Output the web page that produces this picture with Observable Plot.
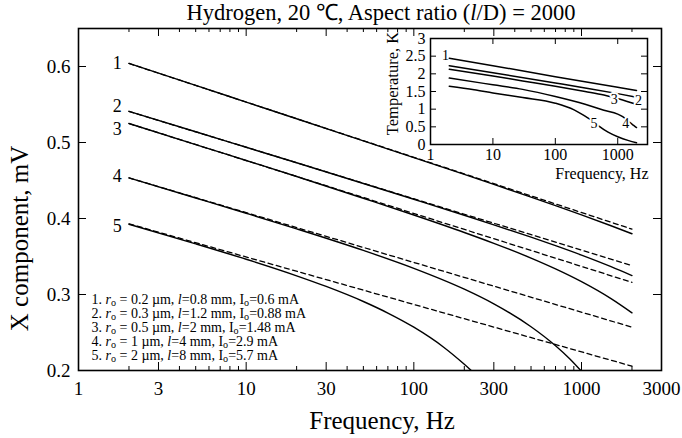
<!DOCTYPE html>
<html>
<head>
<meta charset="utf-8">
<script src="https://cdn.jsdelivr.net/npm/d3@7"></script>
<script src="https://cdn.jsdelivr.net/npm/@observablehq/plot@0.6"></script>
<style>
  body { margin: 0; background: white; }
</style>
</head>
<body>
<div id="wrap"></div>
<script>
// ---------- main chart data (X component, mV vs frequency, Hz) ----------
const freqA = [2, 5, 10, 20, 50, 100, 200, 300, 500, 700, 1000, 1500, 2000];
const solid1 = [0.604, 0.5751, 0.5532, 0.5313, 0.5022, 0.4802, 0.4580, 0.4449, 0.4282, 0.4170, 0.4048, 0.3905, 0.3799];
const solid2 = [0.541, 0.5141, 0.4937, 0.4733, 0.4461, 0.4253, 0.4043, 0.3917, 0.3754, 0.3642, 0.3518, 0.3366, 0.3249];
const solid3 = [0.525, 0.4973, 0.4763, 0.4553, 0.4266, 0.4046, 0.3816, 0.3673, 0.3479, 0.3337, 0.3169, 0.2946, 0.2759];
const freq4 = [2, 5, 10, 20, 50, 100, 200, 300, 500, 700, 850, 990];
const solid4 = [0.4534, 0.4270, 0.4069, 0.3864, 0.3580, 0.3344, 0.3070, 0.2877, 0.2576, 0.2326, 0.2155, 0.2000];
const freq5 = [2, 5, 10, 20, 30, 50, 70, 100, 150, 200, 220];
const solid5 = [0.3924, 0.3667, 0.3464, 0.3246, 0.3106, 0.2908, 0.2756, 0.2570, 0.2310, 0.2082, 0.2000];

const dashFreq = [2, 2000];
const dash1 = [0.604, 0.386];
const dash2 = [0.541, 0.338];
const dash3 = [0.525, 0.316];
const dash4 = [0.4535, 0.257];
const dash5 = [0.393, 0.2057];

const curveNames = ["1", "2", "3", "4", "5"];
const mainLabelFreq = [1.70, 1.70, 1.70, 1.70, 1.70];
const mainLabelVal = [0.604, 0.5476, 0.5173, 0.455, 0.3897];

const xTickLabels = [1, 3, 10, 30, 100, 300, 1000, 3000];
const xMajorTicks = [3, 10, 30, 100, 300, 1000];
const xMinorTicks = [2, 4, 5, 6, 7, 8, 9, 20, 40, 50, 60, 70, 80, 90, 200, 400, 500, 600, 700, 800, 900, 2000];
const yTickLabels = [0.2, 0.3, 0.4, 0.5, 0.6];
const yMajorTicks = [0.3, 0.4, 0.5, 0.6];

const titleText = "Hydrogen, 20 \u2103, Aspect ratio ({l}/D) = 2000";
const xLabel = "Frequency, Hz";
const yLabel = "X component, mV";
const legendLines = [
  "1. {r}_o = 0.2 \u00b5m, {l}=0.8 mm, I_o=0.6 mA",
  "2. {r}_o = 0.3 \u00b5m, {l}=1.2 mm, I_o=0.88 mA",
  "3. {r}_o = 0.5 \u00b5m, {l}=2 mm, I_o=1.48 mA",
  "4. {r}_o = 1 \u00b5m, {l}=4 mm, I_o=2.9 mA",
  "5. {r}_o = 2 \u00b5m, {l}=8 mm, I_o=5.7 mA"
];

// ---------- inset data (Temperature, K vs frequency, Hz) ----------
const tFreq1 = [2, 10, 100, 1000, 2000];
const temp1 = [2.44, 2.23, 1.92, 1.62, 1.53];
const tFreq2 = [2, 10, 100, 300, 1000, 2000];
const temp2 = [2.23, 2.03, 1.74, 1.60, 1.44, 1.34];
const tFreq3 = [2, 10, 30, 100, 300, 600, 900, 1200, 1600, 2000];
const temp3 = [2.13, 1.94, 1.80, 1.65, 1.50, 1.40, 1.32, 1.26, 1.19, 1.13];
const tFreq4 = [2, 10, 30, 100, 300, 600, 1000, 1200, 1400, 1600, 1800, 2000];
const temp4 = [1.88, 1.69, 1.56, 1.36, 1.14, 0.97, 0.86, 0.79, 0.70, 0.61, 0.54, 0.48];
const tFreq5 = [2, 5, 10, 30, 100, 200, 300, 400, 500, 700, 1000, 1500, 2000];
const temp5 = [1.65, 1.55, 1.46, 1.33, 1.17, 0.98, 0.80, 0.66, 0.52, 0.35, 0.22, 0.11, 0.05];
const insetLabelFreq = [1.74, 2150, 877, 1350, 417];
const insetLabelTemp = [2.51, 1.24, 1.26, 0.58, 0.58];
const insetXTicks = [1, 10, 100, 1000];
const insetXMajor = [10, 100, 1000];
const insetYTicks = [0, 0.5, 1, 1.5, 2, 2.5, 3];
const insetYMajor = [0.5, 1, 1.5, 2, 2.5];
const insetXLabel = "Frequency, Hz";
const insetYLabel = "Temperature, K";

// ---------- build tables ----------
const rows = (series) => series.flatMap(([fs, vs], i) => fs.map((f, j) => ({s: i + 1, f, v: vs[j]})));
const solidRows = rows([[freqA, solid1], [freqA, solid2], [freqA, solid3], [freq4, solid4], [freq5, solid5]]);
const dashRows = rows([[dashFreq, dash1], [dashFreq, dash2], [dashFreq, dash3], [dashFreq, dash4], [dashFreq, dash5]]);
const mainLabels = curveNames.map((n, i) => ({n, f: mainLabelFreq[i], v: mainLabelVal[i]}));
const insetRows = rows([[tFreq1, temp1], [tFreq2, temp2], [tFreq3, temp3], [tFreq4, temp4], [tFreq5, temp5]]);
const insetLabels = curveNames.map((n, i) => ({n, f: insetLabelFreq[i], v: insetLabelTemp[i]}));

const serif = "'Liberation Serif', 'Times New Roman', Times, serif";
const W = 682, H = 438, mL = 78, mR = 21, mT = 28, mB = 68;
const fw = W - mL - mR, fh = H - mT - mB;

const main = Plot.plot({
  width: W, height: H,
  marginLeft: mL, marginRight: mR, marginTop: mT, marginBottom: mB,
  x: {type: "log", domain: [1, 3000]},
  y: {domain: [0.2, 0.65]},
  style: {fontFamily: serif, background: "white", color: "black", fontSize: "19px"},
  marks: [
    Plot.line(solidRows, {x: "f", y: "v", z: "s", stroke: "black", strokeWidth: 1.4, curve: "monotone-x", clip: true}),
    Plot.line(dashRows, {x: "f", y: "v", z: "s", stroke: "black", strokeWidth: 1.3, strokeDasharray: "5,3.5", clip: true}),
    Plot.frame({stroke: "black", strokeWidth: 1.6}),
    Plot.ruleX(xMajorTicks, {x: d => d, insetTop: fh - 8, stroke: "black"}),
    Plot.ruleX(xMajorTicks, {x: d => d, insetBottom: fh - 8, stroke: "black"}),
    Plot.ruleX(xMinorTicks, {x: d => d, insetTop: fh - 4, stroke: "black"}),
    Plot.ruleX(xMinorTicks, {x: d => d, insetBottom: fh - 4, stroke: "black"}),
    Plot.ruleY(yMajorTicks, {y: d => d, insetRight: fw - 8, stroke: "black"}),
    Plot.ruleY(yMajorTicks, {y: d => d, insetLeft: fw - 8, stroke: "black"}),
    Plot.axisX({ticks: xTickLabels, tickSize: 0, tickPadding: 11, tickFormat: d => String(d), fontSize: 19, label: null}),
    Plot.axisY({ticks: yTickLabels, tickSize: 0, tickPadding: 8, tickFormat: d => d.toFixed(1), fontSize: 19, label: null}),
    Plot.text(mainLabels, {x: "f", y: "v", text: "n", fontSize: 18, lineAnchor: "middle"}),
    Plot.text([xLabel], {frameAnchor: "bottom", dx: 12, dy: 58, lineAnchor: "bottom", fontSize: 25}),
    Plot.text([yLabel], {frameAnchor: "left", textAnchor: "middle", rotate: -90, dx: -51, dy: 39, lineAnchor: "bottom", fontSize: 25}),
    Plot.text([titleText], {frameAnchor: "top", dx: 11, dy: -9, lineAnchor: "bottom", fontSize: 22.5}),
    Plot.text([legendLines.join("\n")], {frameAnchor: "bottom-left", textAnchor: "start", lineAnchor: "bottom", dx: 13, dy: -11, fontSize: 14, lineHeight: 1})
  ]
});

const iW = 277, iH = 170, imL = 55, imR = 5, imT = 18, imB = 46;
const ifw = iW - imL - imR, ifh = iH - imT - imB;
const inset = Plot.plot({
  width: iW, height: iH,
  marginLeft: imL, marginRight: imR, marginTop: imT, marginBottom: imB,
  x: {type: "log", domain: [1, 3000]},
  y: {domain: [0, 3]},
  style: {fontFamily: serif, color: "black", fontSize: "16px"},
  marks: [
    Plot.line(insetRows, {x: "f", y: "v", z: "s", stroke: "black", strokeWidth: 1.5, curve: "monotone-x"}),
    Plot.frame({stroke: "black", strokeWidth: 1.5}),
    Plot.ruleX(insetXMajor, {x: d => d, insetTop: ifh - 6, stroke: "black"}),
    Plot.ruleX(insetXMajor, {x: d => d, insetBottom: ifh - 6, stroke: "black"}),
    Plot.ruleY(insetYMajor, {y: d => d, insetRight: ifw - 6, stroke: "black"}),
    Plot.ruleY(insetYMajor, {y: d => d, insetLeft: ifw - 6, stroke: "black"}),
    Plot.axisX({ticks: insetXTicks, tickSize: 0, tickPadding: 4, tickFormat: d => String(d), fontSize: 16, label: null}),
    Plot.axisY({ticks: insetYTicks, tickSize: 0, tickPadding: 5, tickFormat: d => String(d), fontSize: 16, label: null}),
    Plot.text(insetLabels.slice(0, 1), {x: "f", y: "v", text: "n", fontSize: 14, lineAnchor: "middle"}),
    Plot.text(insetLabels.slice(1), {x: "f", y: "v", text: "n", fontSize: 14, lineAnchor: "middle", stroke: "white", strokeWidth: 4, fill: "black"}),
    Plot.text([insetXLabel], {frameAnchor: "bottom-right", textAnchor: "end", dx: 1, dy: 34, lineAnchor: "bottom", fontSize: 16}),
    Plot.text([insetYLabel], {frameAnchor: "left", textAnchor: "middle", rotate: -90, dx: -33, dy: -8, lineAnchor: "bottom", fontSize: 16.5})
  ]
});

// rich text: {x} -> italic, _c -> subscript
const NS = "http://www.w3.org/2000/svg";
const SUB = 2.5;
function build(el) {
  const s = el.textContent;
  if (!/\{|_/.test(s)) return;
  el.textContent = "";
  const re = /\{([^}]*)\}|_(\w)/g;
  let last = 0, m, up = 0;
  const add = (txt, italic, sub) => {
    if (!txt) return;
    const sp = document.createElementNS(NS, "tspan");
    if (italic) sp.setAttribute("font-style", "italic");
    if (sub) { sp.setAttribute("font-size", "0.72em"); sp.setAttribute("dy", SUB); up = SUB; }
    else if (up) { sp.setAttribute("dy", -up); up = 0; }
    sp.textContent = txt;
    el.appendChild(sp);
  };
  while ((m = re.exec(s))) {
    add(s.slice(last, m.index));
    if (m[1] != null) add(m[1], true); else add(m[2], false, true);
    last = re.lastIndex;
  }
  add(s.slice(last));
}
main.querySelectorAll("text").forEach(t => {
  const spans = t.querySelectorAll("tspan");
  if (spans.length) spans.forEach(build); else build(t);
});

// place the inset inside the main svg as a group
const g = document.createElementNS(NS, "g");
g.setAttribute("transform", "translate(375,20)");
for (const a of ["fill", "font-family", "font-size", "text-anchor", "style"]) {
  if (inset.hasAttribute(a)) g.setAttribute(a, inset.getAttribute(a));
}
while (inset.firstChild) g.appendChild(inset.firstChild);
main.appendChild(g);

document.getElementById("wrap").appendChild(main);
</script>
</body>
</html>
